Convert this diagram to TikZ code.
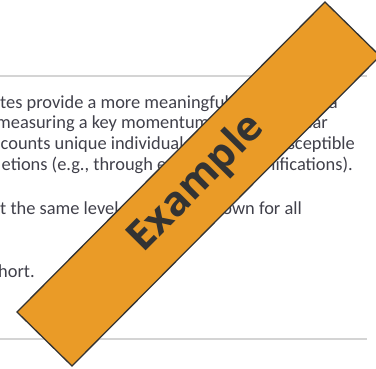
\documentclass[tikz,border=0pt]{standalone}
\usepackage{fontspec}
\setmainfont{Carlito}
\newfontfamily\banfont{Open Sans}
\definecolor{textgray}{HTML}{40404A}
\definecolor{rulegray}{HTML}{D4D4D4}
\definecolor{banorange}{HTML}{EA9B27}
\definecolor{bandark}{HTML}{333333}
\begin{document}
\begin{tikzpicture}[x=1pt,y=-1pt,
  txt/.style={font=\fontsize{18.4}{20}\selectfont, text=textgray, inner sep=0pt, anchor=base west},
  txtr/.style={txt, anchor=base east},
  rule/.style={draw=rulegray, line width=1.5pt}]
\useasboundingbox (0,0) rectangle (376,368);
\clip (0,0) rectangle (376,368);
% rules
\coordinate (r1a) at (0,76); \coordinate (r1b) at (367,76);
\coordinate (r2a) at (0,339); \coordinate (r2b) at (367,339);
\draw[rule] (r1a) -- (r1b);
\draw[rule] (r2a) -- (r2b);
% left text fragments
\node[txt] (l1) at (0,108) {tes provide a more meaningful};
\node[txt] (l2) at (-4,128.5) {measuring a key momentum};
\node[txt] (l3) at (0.5,149) {counts unique individual};
\node[txt] (l4) at (1.5,170) {etions (e.g., through e};
\node[txt] (l6) at (0,214) {t the same level};
\node[txt] (l9) at (-2,277) {hort.};
% right text fragments
\node[txtr] (r1) at (338,108) {a};
\node[txtr] (r2) at (328,128.5) {ear};
\node[txtr] (r3) at (355,149) {usceptible};
\node[txtr] (r4) at (353,170) {lifications).};
\node[txtr] (r6) at (302,214) {own for all};
% banner
\coordinate (A) at (17,312);
\coordinate (B) at (72,366);
\coordinate (D) at (380,56);
\coordinate (C) at (325,2);
\filldraw[fill=banorange, draw=bandark, line width=1.3pt] (A) -- (B) -- (D) -- (C) -- cycle;
\node[font=\banfont\bfseries\fontsize{41}{41}\selectfont, text=bandark, rotate=45.2, inner sep=0pt] (ex) at (197,184) {Example};
\end{tikzpicture}
\end{document}
